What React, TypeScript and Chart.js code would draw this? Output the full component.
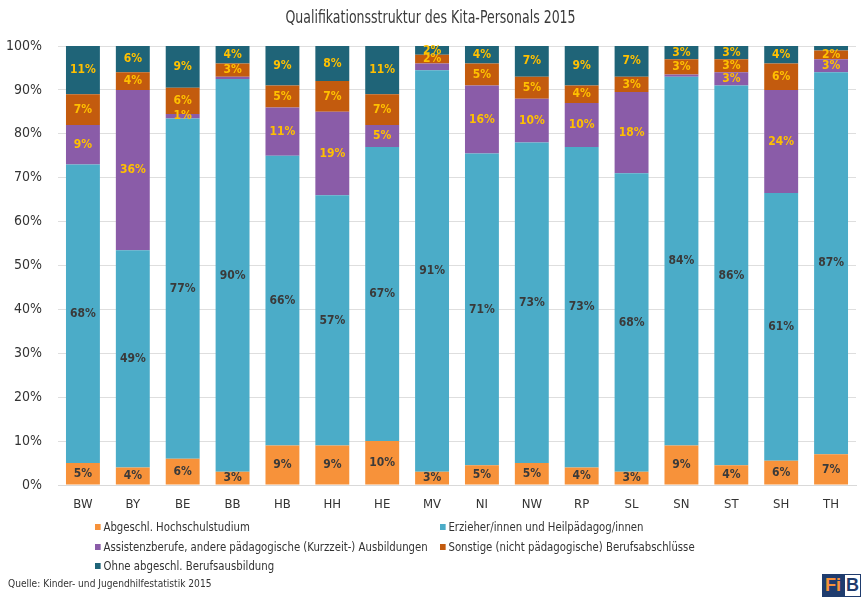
import React, { useEffect, useRef } from "react";
import { Chart, registerables } from "chart.js";

Chart.register(...registerables);

const categories = ["BW", "BY", "BE", "BB", "HB", "HH", "HE", "MV", "NI", "NW", "RP", "SL", "SN", "ST", "SH", "TH"];

const hochschule = [5, 4, 6, 3, 9, 9, 10, 3, 4.5, 5, 4, 3, 9, 4.5, 5.5, 7];
const erzieher = [68, 49.5, 77.5, 89.5, 66, 57, 67, 91.5, 71, 73, 73, 68, 84, 86.5, 61, 87];
const assistenz = [9, 36.5, 1, 0.5, 11, 19, 5, 1.5, 15.5, 10, 10, 18.5, 0.5, 3, 23.5, 3];
const sonstige = [7, 4, 6, 3, 5, 7, 7, 2, 5, 5, 4, 3.5, 3.5, 3, 6, 2];
const ohne = [11, 6, 9.5, 4, 9, 8, 11, 2, 4, 7, 9, 7, 3, 3, 4, 1];

// printed labels (null = not shown)
const hochschuleLabels = [5, 4, 6, 3, 9, 9, 10, 3, 5, 5, 4, 3, 9, 4, 6, 7];
const erzieherLabels = [68, 49, 77, 90, 66, 57, 67, 91, 71, 73, 73, 68, 84, 86, 61, 87];
const assistenzLabels = [9, 36, 1, null, 11, 19, 5, null, 16, 10, 10, 18, null, 3, 24, 3];
const sonstigeLabels = [7, 4, 6, 3, 5, 7, 7, 2, 5, 5, 4, 3, 3, 3, 6, 2];
const ohneLabels = [11, 6, 9, 4, 9, 8, 11, 2, 4, 7, 9, 7, 3, 3, 4, null];

const yTicks = [0, 10, 20, 30, 40, 50, 60, 70, 80, 90, 100];

const seriesNames = [
  "Abgeschl. Hochschulstudium",
  "Erzieher/innen und Heilpädagog/innen",
  "Assistenzberufe, andere pädagogische (Kurzzeit-) Ausbildungen",
  "Sonstige (nicht pädagogische) Berufsabschlüsse",
  "Ohne abgeschl. Berufsausbildung",
];
const seriesColors = ["#F7923A", "#4BACC8", "#8A5CA8", "#C35B0E", "#1F6478"];
const labelColors = ["#3a3a3a", "#3a3a3a", "#FFC000", "#FFC000", "#FFC000"];

const FONT = "'Liberation Sans Narrow', 'DejaVu Sans Condensed', 'Roboto Condensed', 'Liberation Sans', sans-serif";

const labelPlugin = {
  id: "segLabels",
  afterDatasetsDraw(chart: any) {
    const ctx = chart.ctx;
    ctx.save();
    ctx.textAlign = "center";
    ctx.textBaseline = "middle";
    chart.data.datasets.forEach((ds: any, di: number) => {
      const meta = chart.getDatasetMeta(di);
      ctx.fillStyle = labelColors[di];
      ctx.font = "bold 12px " + FONT;
      meta.data.forEach((el: any, i: number) => {
        const lbl = ds.printed[i];
        if (lbl === null || lbl === undefined) return;
        const y = (el.y + el.base) / 2;
        ctx.fillText(lbl + "%", el.x, y);
      });
    });
    ctx.restore();
  },
};

export default function App() {
  const ref = useRef<HTMLCanvasElement>(null);
  useEffect(() => {
    if (!ref.current) return;
    const values = [hochschule, erzieher, assistenz, sonstige, ohne];
    const printed = [hochschuleLabels, erzieherLabels, assistenzLabels, sonstigeLabels, ohneLabels];
    const chart = new Chart(ref.current, {
      type: "bar",
      data: {
        labels: categories,
        datasets: values.map((v, i) => ({
          label: seriesNames[i],
          data: v,
          backgroundColor: seriesColors[i],
          borderWidth: 0,
          barPercentage: 0.68,
          categoryPercentage: 1,
          printed: printed[i],
        })) as any,
      },
      options: {
        animation: false,
        responsive: false,
        layout: { padding: { top: 46, right: 5, bottom: 82, left: 0 } },
        plugins: { legend: { display: false }, tooltip: { enabled: false }, title: { display: false } },
        scales: {
          x: {
            stacked: true,
            grid: { display: false },
            border: { display: true, color: "#d9d9d9" },
            ticks: { color: "#333", font: { family: FONT, size: 13 }, padding: 4 },
            afterFit: (s: any) => { s.height = 30; },
          },
          y: {
            stacked: true,
            min: 0,
            max: 100,
            afterBuildTicks: (s: any) => { s.ticks = yTicks.map((v) => ({ value: v })); },
            grid: { color: "#dedede", drawTicks: false },
            border: { display: false },
            ticks: { color: "#333", font: { family: FONT, size: 14 }, padding: 16, callback: (v: any) => v + "%" },
            afterFit: (s: any) => { s.width = 58; },
          },
        },
      },
      plugins: [labelPlugin],
    });
    return () => chart.destroy();
  }, []);

  const legendItem = (i: number, x: number, y: number) => (
    <div key={i} style={{ position: "absolute", left: x, top: y, display: "flex", alignItems: "center", fontFamily: FONT, fontSize: 12, color: "#333", whiteSpace: "nowrap", transform: "scaleX(0.94)", transformOrigin: "left center" }}>
      <span style={{ display: "inline-block", width: 6, height: 6, background: seriesColors[i], marginRight: 3 }} />
      {seriesNames[i]}
    </div>
  );

  return (
    <div style={{ position: "absolute", left: 0, top: 0, width: 861, height: 597, background: "#fff", overflow: "hidden" }}>
      <canvas ref={ref} width={861} height={597} style={{ position: "absolute", left: 0, top: 0 }} />
      <div style={{ position: "absolute", left: 0, width: 861, top: 7, textAlign: "center", fontFamily: FONT, fontSize: 17, color: "#3a3a3a", transform: "scaleX(0.82)", transformOrigin: "center" }}>
        Qualifikationsstruktur des Kita-Personals 2015
      </div>
      {legendItem(0, 95, 520)}
      {legendItem(1, 440, 520)}
      {legendItem(2, 95, 540)}
      {legendItem(3, 440, 540)}
      {legendItem(4, 95, 559)}
      <div style={{ position: "absolute", left: 8, top: 577, fontFamily: FONT, fontSize: 11, color: "#333", transform: "scaleX(0.92)", transformOrigin: "left center" }}>
        Quelle: Kinder- und Jugendhilfestatistik 2015
      </div>
      <div style={{ position: "absolute", left: 822, top: 574, height: 23, width: 39, display: "flex", fontFamily: "'Liberation Sans', sans-serif", fontWeight: "bold", fontSize: 18 }}>
        <div style={{ background: "#1F3C6E", color: "#F7923A", width: 22, textAlign: "center", lineHeight: "23px" }}>Fi</div>
        <div style={{ background: "#fff", color: "#1F3C6E", border: "1px solid #1F3C6E", width: 15, textAlign: "center", lineHeight: "21px" }}>B</div>
      </div>
    </div>
  );
}
